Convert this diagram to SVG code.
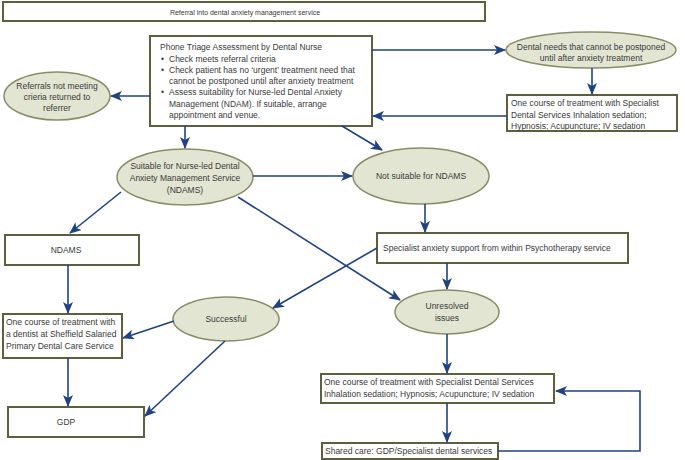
<svg xmlns="http://www.w3.org/2000/svg" width="685" height="460" viewBox="0 0 685 460">
<style>
text{font-family:"Liberation Sans",Arial,sans-serif;font-size:8.5px;fill:#3a3a3a}
.c{text-anchor:middle}
.box{fill:#fff;stroke:#5d603d;stroke-width:2}
.ell{fill:#e3e5d3;stroke:#8a8c66;stroke-width:1.5}
.con path{fill:none;stroke:#1f4282;stroke-width:1.6;marker-end:url(#ah)}
</style>
<defs>
<marker id="ah" viewBox="0 0 12 10" refX="11" refY="5" markerWidth="12" markerHeight="10" markerUnits="userSpaceOnUse" orient="auto">
<path d="M0,0 L12,5 L0,10 L3,5 z" fill="#1f4282"/>
</marker>
</defs>
<rect width="685" height="460" fill="#fff"/>
<g id="banner"><rect class="box" x="3" y="2" width="482" height="19"/><text class="c" x="245" y="14.5" style="font-size:7px">Referral into dental anxiety management service</text></g>
<g id="triage"><rect class="box" x="150" y="36" width="222" height="90"/>
<text x="160" y="50">Phone Triage Assessment by Dental Nurse</text>
<text x="161" y="61.5">•</text><text x="169" y="61.5">Check meets referral criteria</text>
<text x="161" y="72.8">•</text><text x="169" y="72.8">Check patient has no ‘urgent’ treatment need that</text>
<text x="169" y="84">cannot be postponed until after anxiety treatment</text>
<text x="161" y="95.4">•</text><text x="169" y="95.4">Assess suitability for Nurse-led Dental Anxiety</text>
<text x="169" y="106.7">Management (NDAM). If suitable, arrange</text>
<text x="169" y="118">appointment and venue.</text></g>
<g id="referrals"><ellipse class="ell" cx="57" cy="96" rx="53" ry="24"/><text class="c" x="57" y="89">Referrals not meeting</text><text class="c" x="57" y="100">crieria returned to</text><text class="c" x="57" y="111">referrer</text></g>
<g id="dentalneeds"><ellipse class="ell" cx="591" cy="50" rx="85" ry="18"/><text class="c" x="591" y="50">Dental needs that cannot be postponed</text><text class="c" x="591" y="61">until after anxiety treatment</text></g>
<g id="specialist1"><rect class="box" x="507" y="95" width="170" height="36"/><text x="511" y="106">One course of treatment with Specialist</text><text x="511" y="117.5">Dental Services Inhalation sedation;</text><text x="511" y="129">Hypnosis; Acupuncture; IV sedation</text></g>
<g id="suitable"><ellipse class="ell" cx="185" cy="177" rx="68" ry="28"/><text class="c" x="185" y="169">Suitable for Nurse-led Dental</text><text class="c" x="185" y="181">Anxiety Management Service</text><text class="c" x="185" y="193">(NDAMS)</text></g>
<g id="notsuitable"><ellipse class="ell" cx="421" cy="176" rx="68" ry="28"/><text class="c" x="421" y="178.5">Not suitable for NDAMS</text></g>
<g id="psychotherapy"><rect class="box" x="377" y="233" width="251" height="30"/><text x="383" y="251">Specialist anxiety support from within Psychotherapy service</text></g>
<g id="ndams"><rect class="box" x="5" y="235" width="134" height="30"/><text class="c" x="66" y="253">NDAMS</text></g>
<g id="sheffield"><rect class="box" x="3" y="314" width="119" height="44"/><text x="6" y="325">One course of treatment with</text><text x="6" y="337">a dentist at Sheffield Salaried</text><text x="6" y="349">Primary Dental Care Service</text></g>
<g id="successful"><ellipse class="ell" cx="226" cy="319" rx="53" ry="22"/><text class="c" x="226" y="322">Successful</text></g>
<g id="unresolved"><ellipse class="ell" cx="447" cy="312" rx="52" ry="22"/><text class="c" x="447" y="309">Unresolved</text><text class="c" x="447" y="321">issues</text></g>
<g id="gdp"><rect class="box" x="8" y="407" width="136" height="30"/><text class="c" x="66" y="425">GDP</text></g>
<g id="specialist2"><rect class="box" x="321" y="374" width="233" height="29"/><text x="324" y="385">One course of treatment with Specialist Dental Services</text><text x="324" y="396.5">Inhalation sedation; Hypnosis; Acupuncture; IV sedation</text></g>
<g id="shared"><rect class="box" x="322" y="443" width="176" height="16"/><text x="325" y="454">Shared care: GDP/Specialist dental services</text></g>
<g id="connectors" class="con">
<path d="M150,96 L111,96"/>
<path d="M372,50 L505,50"/>
<path d="M592,68 L592,94"/>
<path d="M507,116 L373,116"/>
<path d="M185,126 L185,148"/>
<path d="M342,126 L382,150"/>
<path d="M253,176 L352,176"/>
<path d="M121,192 L70,233"/>
<path d="M238,197 L400,300"/>
<path d="M425,204 L425,232"/>
<path d="M377,248 L273,308"/>
<path d="M447,263 L447,289"/>
<path d="M68,265 L68,313"/>
<path d="M174,321 L123,338"/>
<path d="M68,358 L68,406"/>
<path d="M225,341 L145,416"/>
<path d="M447,334 L447,373"/>
<path d="M447,403 L447,442"/>
<path d="M498,451 L640,451 L640,391 L556,391"/>
</g>
</svg>
